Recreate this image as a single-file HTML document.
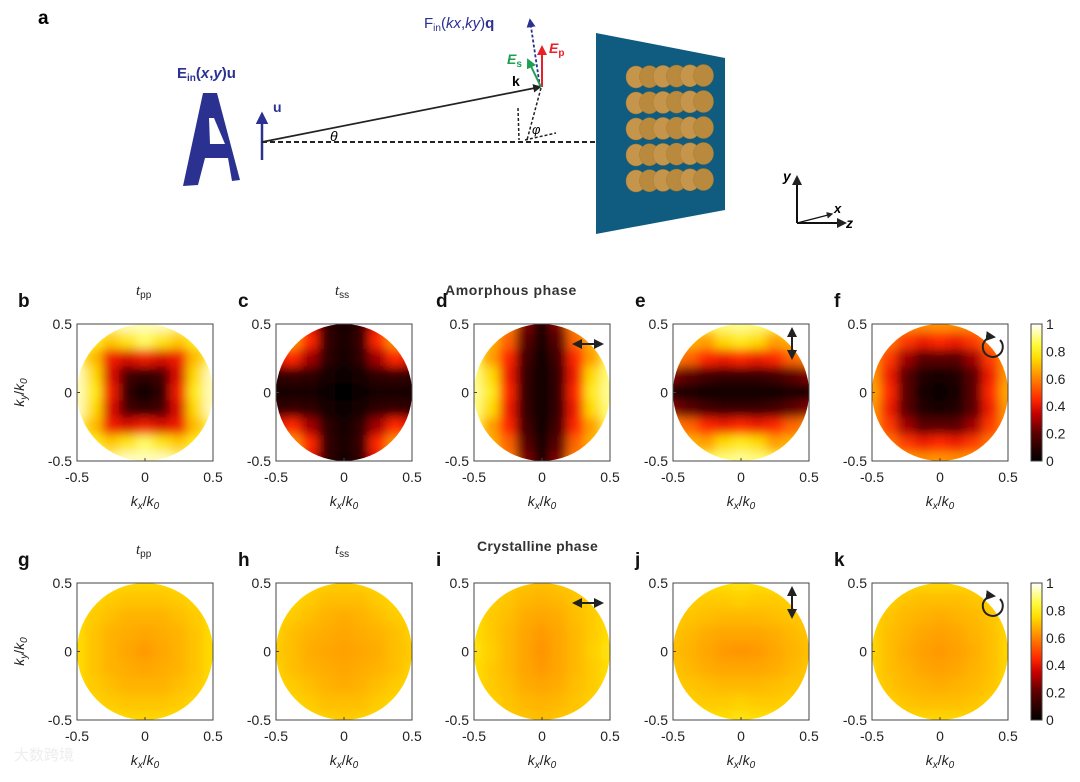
<!DOCTYPE html>
<html><head><meta charset="utf-8"><style>
body{margin:0;background:#fff;width:1080px;height:777px;overflow:hidden;font-family:"Liberation Sans","Noto Sans CJK SC",sans-serif}
svg text{font-family:"Liberation Sans","Noto Sans CJK SC",sans-serif}
</style></head><body>
<svg id="fig" width="1080" height="777" viewBox="0 0 1080 777" xmlns="http://www.w3.org/2000/svg">
<defs>
<filter id="bl" x="0" y="0" width="1" height="1" filterUnits="objectBoundingBox"><feGaussianBlur stdDeviation="5" edgeMode="duplicate"/></filter>
<marker id="mk" viewBox="0 0 10 10" refX="8" refY="5" markerWidth="5" markerHeight="5" orient="auto-start-reverse"><path d="M0,0L10,5L0,10z" fill="#222"/></marker>
<marker id="mb" viewBox="0 0 10 10" refX="8" refY="5" markerWidth="5" markerHeight="5" orient="auto"><path d="M0,0L10,5L0,10z" fill="#2b3190"/></marker>
<marker id="mr" viewBox="0 0 10 10" refX="8" refY="5" markerWidth="5" markerHeight="5" orient="auto"><path d="M0,0L10,5L0,10z" fill="#e8202a"/></marker>
<marker id="mg" viewBox="0 0 10 10" refX="8" refY="5" markerWidth="5" markerHeight="5" orient="auto"><path d="M0,0L10,5L0,10z" fill="#1fa050"/></marker>
<linearGradient id="cbg" x1="0" y1="1" x2="0" y2="0">
<stop offset="0" stop-color="#000"/><stop offset="0.2" stop-color="#5a0000"/><stop offset="0.35" stop-color="#c80000"/><stop offset="0.45" stop-color="#ff2800"/><stop offset="0.6" stop-color="#ff8200"/><stop offset="0.75" stop-color="#ffdc00"/><stop offset="0.85" stop-color="#fffa3c"/><stop offset="1" stop-color="#fff"/>
</linearGradient>
</defs>

<g>
<text x="38" y="24" font-size="19" font-weight="bold">a</text>
<text x="177" y="78" font-size="15" font-weight="bold" fill="#2b3190">E<tspan font-size="10" dy="3">in</tspan><tspan dy="-3">(</tspan><tspan font-style="italic">x</tspan>,<tspan font-style="italic">y</tspan>)u</text>
<polygon points="203,93 217,93 240,180 232,181 228,158 205,158 198,185 183,186" fill="#2b3190"/>
<polygon points="209,118 214,118 225,144 210,144" fill="#fff"/>
<line x1="262" y1="160" x2="262" y2="114" stroke="#2b3190" stroke-width="2.5" marker-end="url(#mb)"/>
<text x="273" y="112" font-size="14" font-weight="bold" fill="#2b3190">u</text>
<line x1="262" y1="142" x2="596" y2="142" stroke="#222" stroke-width="2" stroke-dasharray="5,3"/>
<line x1="262" y1="142" x2="540" y2="87" stroke="#222" stroke-width="1.7" marker-end="url(#mk)"/>
<text x="330" y="141" font-size="14" font-style="italic" font-family="Liberation Serif">θ</text>
<text x="512" y="86" font-size="14" font-weight="bold">k</text>
<line x1="541" y1="88" x2="527" y2="140" stroke="#222" stroke-width="1.5" stroke-dasharray="3,2"/>
<line x1="518" y1="108" x2="519" y2="140" stroke="#222" stroke-width="1.5" stroke-dasharray="3,2"/>
<line x1="525" y1="140" x2="556" y2="133" stroke="#222" stroke-width="1.5" stroke-dasharray="3,2"/>
<text x="532" y="134" font-size="13" font-style="italic" font-family="Liberation Serif">φ</text>
<line x1="540" y1="87" x2="530" y2="20" stroke="#2b3190" stroke-width="1.8" stroke-dasharray="3,2" marker-end="url(#mb)"/>
<text x="424" y="28" font-size="15" fill="#2b3190">F<tspan font-size="10" dy="3">in</tspan><tspan dy="-3">(</tspan><tspan font-style="italic">kx</tspan>,<tspan font-style="italic">ky</tspan>)<tspan font-weight="bold">q</tspan></text>
<line x1="542" y1="87" x2="542" y2="47" stroke="#e8202a" stroke-width="2" marker-end="url(#mr)"/>
<text x="549" y="53" font-size="14" font-weight="bold" font-style="italic" fill="#e8202a">E<tspan font-size="10" dy="3" font-style="normal">p</tspan></text>
<line x1="541" y1="87" x2="528" y2="60" stroke="#1fa050" stroke-width="2" marker-end="url(#mg)"/>
<text x="507" y="64" font-size="14" font-weight="bold" font-style="italic" fill="#1fa050">E<tspan font-size="10" dy="3" font-style="normal">s</tspan></text>
<polygon points="596,33 725,58 725,210 596,234" fill="#0f5c80"/>
<g id="rods"></g>
<line x1="797" y1="223" x2="797" y2="177" stroke="#111" stroke-width="2" marker-end="url(#mk)"/>
<line x1="797" y1="223" x2="845" y2="223" stroke="#111" stroke-width="2" marker-end="url(#mk)"/>
<line x1="797" y1="223" x2="832" y2="214" stroke="#111" stroke-width="1.3" marker-end="url(#mk)"/>
<text x="783" y="181" font-size="14" font-style="italic" font-weight="bold">y</text>
<text x="834" y="213" font-size="13" font-style="italic" font-weight="bold">x</text>
<text x="846" y="228" font-size="14" font-style="italic" font-weight="bold">z</text>
</g>

<text x="445" y="295" font-size="14" font-weight="bold" fill="#333" letter-spacing="0.6">Amorphous phase</text>
<text x="477" y="551" font-size="14" font-weight="bold" fill="#333" letter-spacing="0.3">Crystalline phase</text>
<g id="panels"></g>
<text x="14" y="760" font-size="15" fill="#eee">大数跨境</text>
</svg>
<script>
const gridCoords = [-0.5,-0.375,-0.25,-0.125,0,0.125,0.25,0.375,0.5];
const xTickLabels = ["-0.5","0","0.5"];
const yTickLabels = ["0.5","0","-0.5"];
const cbTickLabels = ["0","0.2","0.4","0.6","0.8","1"];
const panelLetters = ["b","c","d","e","f","g","h","i","j","k"];
const panelSubtitles = ["pp","ss","","","","pp","ss","","",""];
const panelPol = ["","","h","v","c","","","h","v","c"];
const tppAmorph = [
[.9,.9,.9,.95,.95,.95,.9,.9,.9],
[.85,.8,.72,.78,.88,.78,.72,.8,.85],
[.85,.7,.42,.38,.42,.38,.42,.7,.85],
[.95,.75,.38,.15,.1,.15,.38,.75,.95],
[.95,.8,.42,.1,.02,.1,.42,.8,.95],
[.95,.75,.38,.15,.1,.15,.38,.75,.95],
[.85,.7,.42,.38,.42,.38,.42,.7,.85],
[.85,.8,.72,.78,.88,.78,.72,.8,.85],
[.9,.9,.9,.95,.95,.95,.9,.9,.9]];
const tssAmorph = [
[.8,.7,.4,.1,.05,.1,.4,.7,.8],
[.7,.62,.45,.12,.05,.12,.45,.62,.7],
[.4,.45,.3,.1,.04,.1,.3,.45,.4],
[.1,.12,.1,.05,.02,.05,.1,.12,.1],
[.05,.05,.04,.02,0,.02,.04,.05,.05],
[.1,.12,.1,.05,.02,.05,.1,.12,.1],
[.4,.45,.3,.1,.04,.1,.3,.45,.4],
[.7,.62,.45,.12,.05,.12,.45,.62,.7],
[.8,.7,.4,.1,.05,.1,.4,.7,.8]];
const xPolAmorph = [
[.7,.65,.6,.25,.05,.25,.6,.65,.7],
[.75,.68,.55,.2,.05,.2,.55,.68,.75],
[.85,.65,.45,.15,.03,.15,.45,.65,.85],
[.9,.75,.42,.12,.02,.12,.42,.75,.9],
[.92,.8,.45,.12,.02,.12,.45,.8,.92],
[.9,.75,.42,.12,.02,.12,.42,.75,.9],
[.85,.65,.45,.15,.03,.15,.45,.65,.85],
[.75,.68,.55,.2,.05,.2,.55,.68,.75],
[.7,.65,.6,.25,.05,.25,.6,.65,.7]];
const yPolAmorph = [
[.7,.75,.85,.9,.92,.9,.85,.75,.7],
[.65,.68,.65,.75,.8,.75,.65,.68,.65],
[.6,.55,.45,.42,.45,.42,.45,.55,.6],
[.25,.2,.15,.12,.12,.12,.15,.2,.25],
[.05,.05,.03,.02,.02,.02,.03,.05,.05],
[.25,.2,.15,.12,.12,.12,.15,.2,.25],
[.6,.55,.45,.42,.45,.42,.45,.55,.6],
[.65,.68,.65,.75,.8,.75,.65,.68,.65],
[.7,.75,.85,.9,.92,.9,.85,.75,.7]];
const circAmorph = [
[.65,.65,.62,.62,.63,.62,.62,.65,.65],
[.65,.58,.48,.42,.45,.42,.48,.58,.65],
[.62,.48,.3,.2,.2,.2,.3,.48,.62],
[.63,.42,.2,.08,.05,.08,.2,.42,.63],
[.66,.45,.2,.05,.02,.05,.2,.45,.66],
[.63,.42,.2,.08,.05,.08,.2,.42,.63],
[.62,.48,.3,.2,.2,.2,.3,.48,.62],
[.65,.58,.48,.42,.45,.42,.48,.58,.65],
[.67,.66,.64,.62,.63,.62,.64,.66,.67]];
const tppCryst = [
[.76,.76,.75,.74,.74,.74,.75,.76,.76],
[.76,.74,.72,.71,.71,.71,.72,.74,.76],
[.75,.72,.7,.68,.68,.68,.7,.72,.75],
[.75,.71,.68,.67,.66,.67,.68,.71,.75],
[.75,.71,.68,.66,.64,.66,.68,.71,.75],
[.75,.71,.68,.67,.66,.67,.68,.71,.75],
[.75,.72,.7,.68,.68,.68,.7,.72,.75],
[.76,.74,.72,.71,.71,.71,.72,.74,.76],
[.76,.76,.75,.74,.74,.74,.75,.76,.76]];
const tssCryst = [
[.76,.75,.74,.73,.72,.73,.74,.75,.76],
[.75,.74,.72,.7,.7,.7,.72,.74,.75],
[.74,.72,.7,.68,.67,.68,.7,.72,.74],
[.73,.7,.68,.67,.66,.67,.68,.7,.73],
[.72,.7,.67,.66,.65,.66,.67,.7,.72],
[.73,.7,.68,.67,.66,.67,.68,.7,.73],
[.74,.72,.7,.68,.67,.68,.7,.72,.74],
[.75,.74,.72,.7,.7,.7,.72,.74,.75],
[.76,.75,.74,.73,.72,.73,.74,.75,.76]];
const xPolCryst = [
[.75,.74,.72,.71,.7,.71,.72,.74,.75],
[.75,.73,.71,.69,.68,.69,.71,.73,.75],
[.76,.72,.7,.67,.66,.67,.7,.72,.76],
[.76,.72,.69,.66,.64,.66,.69,.72,.76],
[.77,.73,.69,.66,.63,.66,.69,.73,.77],
[.76,.72,.69,.66,.64,.66,.69,.72,.76],
[.76,.72,.7,.67,.66,.67,.7,.72,.76],
[.75,.73,.71,.69,.68,.69,.71,.73,.75],
[.75,.74,.72,.71,.7,.71,.72,.74,.75]];
const yPolCryst = [
[.75,.75,.76,.76,.77,.76,.76,.75,.75],
[.74,.73,.72,.72,.73,.72,.72,.73,.74],
[.72,.71,.7,.69,.69,.69,.7,.71,.72],
[.71,.69,.67,.66,.66,.66,.67,.69,.71],
[.7,.68,.66,.64,.63,.64,.66,.68,.7],
[.71,.69,.67,.66,.66,.66,.67,.69,.71],
[.72,.71,.7,.69,.69,.69,.7,.71,.72],
[.74,.73,.72,.72,.73,.72,.72,.73,.74],
[.75,.75,.76,.76,.77,.76,.76,.75,.75]];
const circCryst = [
[.75,.75,.74,.74,.74,.74,.74,.75,.75],
[.75,.73,.71,.7,.7,.7,.71,.73,.75],
[.74,.71,.69,.68,.67,.68,.69,.71,.74],
[.74,.7,.68,.66,.65,.66,.68,.7,.74],
[.74,.7,.67,.65,.64,.65,.67,.7,.74],
[.74,.7,.68,.66,.65,.66,.68,.7,.74],
[.74,.71,.69,.68,.67,.68,.69,.71,.74],
[.75,.73,.71,.7,.7,.7,.71,.73,.75],
[.75,.75,.74,.74,.74,.74,.74,.75,.75]];
const panelData = [tppAmorph,tssAmorph,xPolAmorph,yPolAmorph,circAmorph,tppCryst,tssCryst,xPolCryst,yPolCryst,circCryst];

const NS="http://www.w3.org/2000/svg";
function mk(tag,attrs,parent){const e=document.createElementNS(NS,tag);for(const k in attrs)e.setAttribute(k,attrs[k]);if(parent)parent.appendChild(e);return e;}
const stops=[[0,0,0,0],[.2,90,0,0],[.35,200,0,0],[.45,255,40,0],[.6,255,130,0],[.75,255,220,0],[.85,255,250,60],[1,255,255,255]];
function cmap(v){v=Math.max(0,Math.min(1,v));for(let i=1;i<stops.length;i++){if(v<=stops[i][0]){const a=stops[i-1],b=stops[i],t=(v-a[0])/(b[0]-a[0]);return `rgb(${Math.round(a[1]+t*(b[1]-a[1]))},${Math.round(a[2]+t*(b[2]-a[2]))},${Math.round(a[3]+t*(b[3]-a[3]))})`;}}return "#fff";}

const rods=document.getElementById('rods');
for(let r=0;r<5;r++){for(let c=0;c<6;c++){
  const cx=636+c*13.5, cy=77+r*26-c*0.3;
  mk('ellipse',{cx:cx,cy:cy,rx:10,ry:11,fill:c%2?'#b98a3e':'#c4954a',stroke:'#a87a30','stroke-width':0.5},rods);
}}

const BX=[77,276,474,673,872], BY=[324,583], W=136, H=137;
const panels=document.getElementById('panels');
panelData.forEach((data,p)=>{
  const row=Math.floor(p/5), col=p%5;
  const x0=BX[col], y0=BY[row];
  const sx=v=>x0+(v+0.5)*W, sy=v=>y0+(0.5-v)*H;
  const g=mk('g',{},panels);
  
  
  const cid='clip'+p;
  const cp=mk('clipPath',{id:cid},g);
  mk('ellipse',{cx:sx(0),cy:sy(0),rx:W/2,ry:H/2},cp);
  const cg=mk('g',{'clip-path':`url(#${cid})`},g);
  const hg=mk('g',{filter:'url(#bl)'},cg);
  const dx=W/(gridCoords.length-1), dy=H/(gridCoords.length-1);
  data.forEach((rowv,i)=>rowv.forEach((v,j)=>{
    const r=mk('rect',{x:sx(gridCoords[j])-dx/2-0.5,y:sy(-gridCoords[i])-dy/2-0.5,width:dx+1,height:dy+1,fill:cmap(v)},hg);
    
    
  }));
  const box=mk('rect',{x:x0,y:y0,width:W,height:H,fill:'none',stroke:'#444','stroke-width':1},g);
  
  
  [-0.5,0,0.5].forEach((t,k)=>{
    mk('line',{x1:sx(t),x2:sx(t),y1:y0+H,y2:y0+H-3,stroke:'#444'},g);
    mk('line',{x1:x0,x2:x0+3,y1:sy(t),y2:sy(t),stroke:'#444'},g);
    const xt=mk('text',{x:sx(t),y:y0+H+21,'font-size':14,'text-anchor':'middle',fill:'#222'},g);xt.textContent=xTickLabels[k];
    
    
    const yt=mk('text',{x:x0-5,y:sy(-t)+5,'font-size':14,'text-anchor':'end',fill:'#222'},g);yt.textContent=yTickLabels[k];
    
    
  });
  const xl=mk('text',{x:sx(0),y:y0+H+45,'font-size':14,'text-anchor':'middle',fill:'#222'},g);
  xl.innerHTML='<tspan font-style="italic">k</tspan><tspan font-size="10" dy="3" font-style="italic">x</tspan><tspan dy="-3">/</tspan><tspan font-style="italic">k</tspan><tspan font-size="10" dy="3" font-style="italic">0</tspan>';
  
  
  if(col===0){
    const yl=mk('text',{x:0,y:0,'font-size':14,'text-anchor':'middle',fill:'#222',transform:`translate(24,${sy(0)}) rotate(-90)`},g);
    yl.innerHTML='<tspan font-style="italic">k</tspan><tspan font-size="10" dy="3" font-style="italic">y</tspan><tspan dy="-3">/</tspan><tspan font-style="italic">k</tspan><tspan font-size="10" dy="3" font-style="italic">0</tspan>';
    
    
  }
  const lab=mk('text',{x:x0-59+(col===0?0:21),y:y0-17,'font-size':19,'font-weight':'bold',fill:'#111'},g);
  lab.textContent=panelLetters[p];
  
  
  if(panelSubtitles[p]){
    const st=mk('text',{x:sx(0)-9,y:y0-29,'font-size':15,fill:'#222'},g);
    st.innerHTML='<tspan font-style="italic" font-family="Liberation Serif">t</tspan><tspan font-size="10" dy="3">'+panelSubtitles[p]+'</tspan>';
    
    
  }
  const pol=panelPol[p];
  if(pol==='h'){const a=mk('line',{x1:x0+100,x2:x0+128,y1:y0+20,y2:y0+20,stroke:'#222','stroke-width':2,'marker-start':'url(#mk)','marker-end':'url(#mk)'},g);}
  if(pol==='v'){const a=mk('line',{x1:x0+119,x2:x0+119,y1:y0+5,y2:y0+34,stroke:'#222','stroke-width':2,'marker-start':'url(#mk)','marker-end':'url(#mk)'},g);}
  if(pol==='c'){const a=mk('path',{d:`M${x0+128},${y0+16} A10,10 0 1 1 ${x0+122},${y0+13}`,fill:'none',stroke:'#222','stroke-width':2,'marker-end':'url(#mk)'},g);}
  if(col===4){
    const cb=mk('rect',{x:1031,y:y0,width:11,height:H,fill:'url(#cbg)',stroke:'#444','stroke-width':1},g);
    
    
    cbTickLabels.forEach((t,k)=>{
      const yy=y0+H-k*H/5;
      const tt=mk('text',{x:1046,y:yy+5,'font-size':14,fill:'#222'},g);tt.textContent=t;
      
      
    });
  }
});
</script>
</body></html>
